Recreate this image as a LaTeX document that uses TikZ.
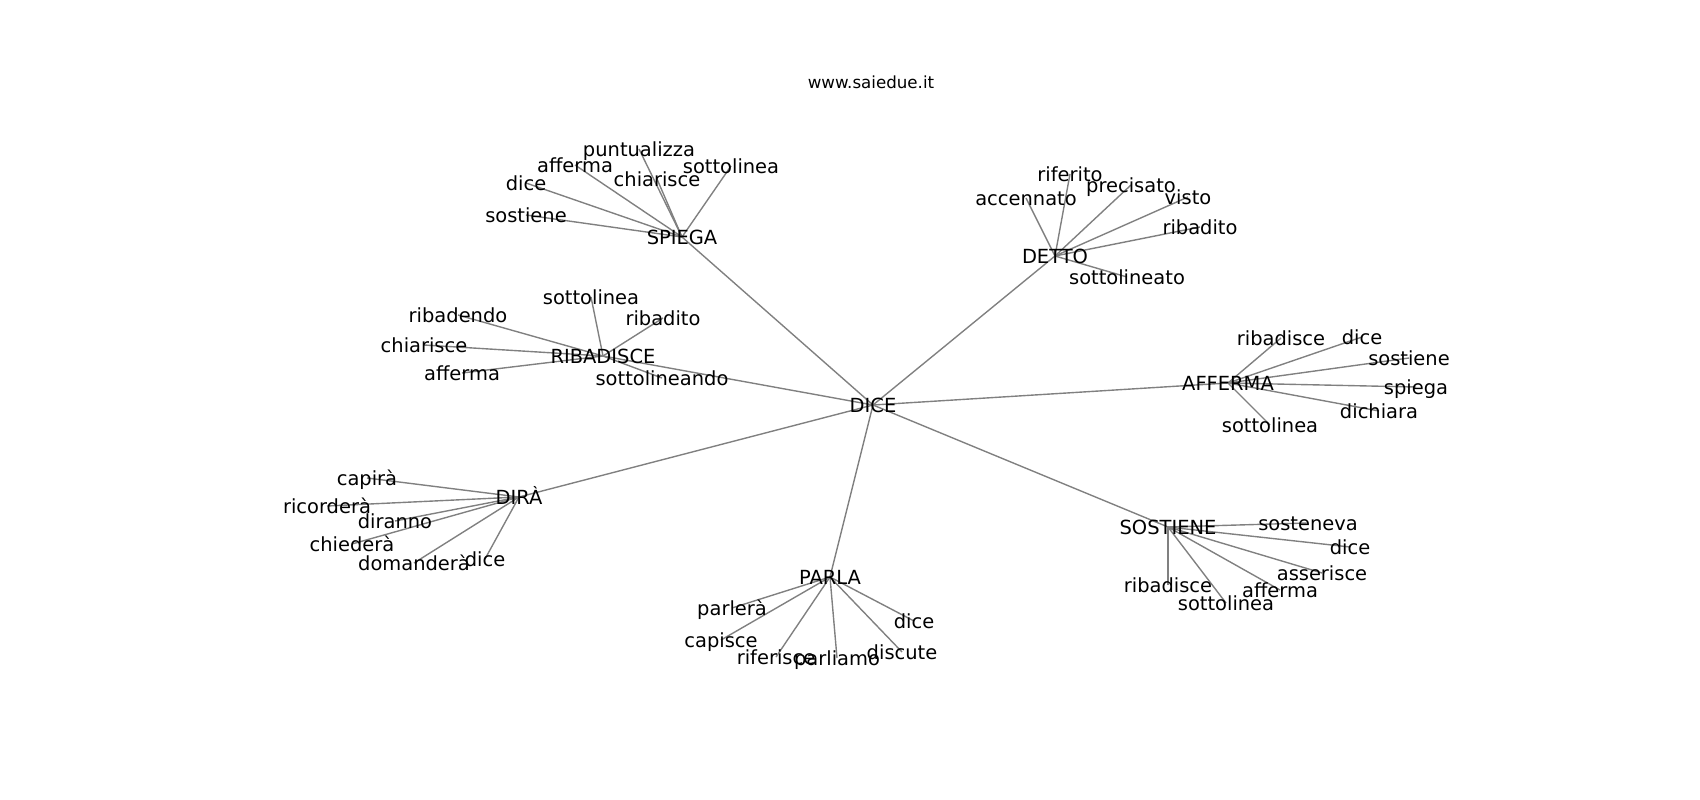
\documentclass[tikz,border=0pt]{standalone}
\usepackage{fontspec}
\setmainfont{DejaVu Sans}
\pgfdeclarelayer{bg}
\pgfsetlayers{bg,main}
\begin{document}
\begin{tikzpicture}[x=0.01in,y=-0.01in,
  lbl/.style={inner sep=0pt, text height=12.2bp, text depth=1.8bp, anchor=center, font=\fontsize{14bp}{17bp}\selectfont},
  link/.style={draw=black!50, line width=1bp}]
\useasboundingbox (0,0) rectangle (1700,800);
\node[font=\fontsize{12bp}{14bp}\selectfont, inner sep=0pt] (title) at (871,82.5) {www.saiedue.it};
% hubs
\node[lbl] (dice) at (873,405) {DICE};
\node[lbl] (spiega) at (682,237) {SPIEGA};
\node[lbl] (detto) at (1055,256) {DETTO};
\node[lbl] (ribadisce) at (603,356) {RIBADISCE};
\node[lbl] (afferma) at (1228,383) {AFFERMA};
\node[lbl] (dira) at (519,497) {DIRÀ};
\node[lbl] (parla) at (830,577) {PARLA};
\node[lbl] (sostiene) at (1168,527) {SOSTIENE};
% SPIEGA
\node[lbl] (sp1) at (639,149) {puntualizza};
\node[lbl] (sp2) at (731,166) {sottolinea};
\node[lbl] (sp3) at (575,165) {afferma};
\node[lbl] (sp4) at (657,179) {chiarisce};
\node[lbl] (sp5) at (526,183) {dice};
\node[lbl] (sp6) at (526,215) {sostiene};
% DETTO
\node[lbl] (de1) at (1070,174) {riferito};
\node[lbl] (de2) at (1026,198) {accennato};
\node[lbl] (de3) at (1131,185) {precisato};
\node[lbl] (de4) at (1188,197) {visto};
\node[lbl] (de5) at (1200,227) {ribadito};
\node[lbl] (de6) at (1127,277) {sottolineato};
% RIBADISCE
\node[lbl] (ri1) at (591,297) {sottolinea};
\node[lbl] (ri2) at (663,318) {ribadito};
\node[lbl] (ri3) at (458,315) {ribadendo};
\node[lbl] (ri4) at (424,345) {chiarisce};
\node[lbl] (ri5) at (462,373) {afferma};
\node[lbl] (ri6) at (662,378) {sottolineando};
% AFFERMA
\node[lbl] (af1) at (1281,338) {ribadisce};
\node[lbl] (af2) at (1362,337) {dice};
\node[lbl] (af3) at (1409,358) {sostiene};
\node[lbl] (af4) at (1416,387) {spiega};
\node[lbl] (af5) at (1379,411) {dichiara};
\node[lbl] (af6) at (1270,425) {sottolinea};
% DIRA
\node[lbl] (di1) at (367,478) {capirà};
\node[lbl] (di2) at (327,506) {ricorderà};
\node[lbl] (di3) at (395,521) {diranno};
\node[lbl] (di4) at (352,544) {chiederà};
\node[lbl] (di5) at (414,563) {domanderà};
\node[lbl] (di6) at (485,559) {dice};
% PARLA
\node[lbl] (pa1) at (732,608) {parlerà};
\node[lbl] (pa2) at (721,640) {capisce};
\node[lbl] (pa3) at (776,657) {riferisce};
\node[lbl] (pa4) at (837,658) {parliamo};
\node[lbl] (pa5) at (902,652) {discute};
\node[lbl] (pa6) at (914,621) {dice};
% SOSTIENE
\node[lbl] (so1) at (1308,523) {sosteneva};
\node[lbl] (so2) at (1350,547) {dice};
\node[lbl] (so3) at (1322,573) {asserisce};
\node[lbl] (so4) at (1280,590) {afferma};
\node[lbl] (so5) at (1168,585) {ribadisce};
\node[lbl] (so6) at (1226,603) {sottolinea};
\begin{pgfonlayer}{bg}
\foreach \h in {spiega,detto,ribadisce,afferma,dira,parla,sostiene}
  \draw[link] (dice.center) -- (\h.center);
\foreach \h/\p in {spiega/sp,detto/de,ribadisce/ri,afferma/af,dira/di,parla/pa,sostiene/so}
  \foreach \i in {1,...,6}
    \draw[link] (\h.center) -- (\p\i.center);
\end{pgfonlayer}
\end{tikzpicture}
\end{document}
